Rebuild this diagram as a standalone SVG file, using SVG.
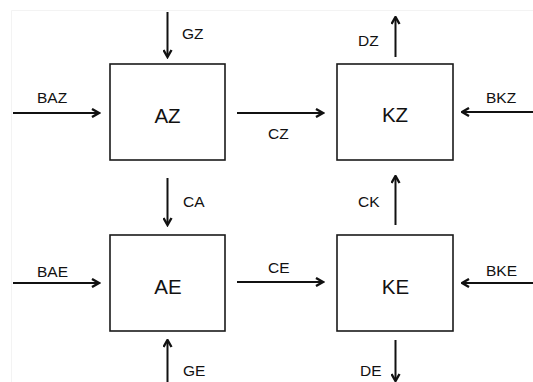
<svg xmlns="http://www.w3.org/2000/svg" width="533" height="382" viewBox="0 0 533 382">
<style>
.box{fill:#fff;stroke:#1a1a1a;stroke-width:1.6}
.big{font-family:"Liberation Sans",Arial,sans-serif;font-size:20.5px;fill:#111;text-anchor:middle}
.lbl{font-family:"Liberation Sans",Arial,sans-serif;font-size:15.5px;fill:#111}
.ar{stroke:#111;stroke-width:2;fill:none;marker-end:url(#ah)}
</style>
<defs>
<marker id="ah" viewBox="0 0 10 10" refX="8.5" refY="5" markerWidth="10" markerHeight="10" markerUnits="userSpaceOnUse" orient="auto">
<path d="M1.5,1 L8.5,5 L1.5,9" fill="none" stroke="#111" stroke-width="2.4"/>
</marker>
</defs>
<rect width="533" height="382" fill="#fff"/>
<path d="M11.5,382 V10.5 H533" fill="none" stroke="#f3f3f3" stroke-width="1"/>
<g id="AZ"><rect class="box" x="110" y="64" width="115" height="96"/><text class="big" x="167.5" y="123">AZ</text></g>
<g id="KZ"><rect class="box" x="337" y="64" width="116" height="96"/><text class="big" x="395" y="122">KZ</text></g>
<g id="AE"><rect class="box" x="110" y="235" width="115" height="96"/><text class="big" x="168" y="294">AE</text></g>
<g id="KE"><rect class="box" x="337" y="235" width="116" height="96"/><text class="big" x="395.5" y="294">KE</text></g>
<g id="connectors">
<path class="ar" d="M13,113 H99"/>
<path class="ar" d="M237,113 H323"/>
<path class="ar" d="M533,112 H462"/>
<path class="ar" d="M167.5,12 V57"/>
<path class="ar" d="M395.5,57 V17"/>
<path class="ar" d="M167.5,178 V225"/>
<path class="ar" d="M395.5,225 V176"/>
<path class="ar" d="M13,283 H99"/>
<path class="ar" d="M237,282 H323"/>
<path class="ar" d="M533,283 H462"/>
<path class="ar" d="M167.5,382 V340"/>
<path class="ar" d="M395.5,340 V381"/>
<text class="lbl" x="182" y="39">GZ</text>
<text class="lbl" x="37" y="103">BAZ</text>
<text class="lbl" x="268" y="139">CZ</text>
<text class="lbl" x="358" y="46">DZ</text>
<text class="lbl" x="486" y="103">BKZ</text>
<text class="lbl" x="183" y="207">CA</text>
<text class="lbl" x="37" y="277">BAE</text>
<text class="lbl" x="268" y="273">CE</text>
<text class="lbl" x="358" y="207">CK</text>
<text class="lbl" x="486" y="276">BKE</text>
<text class="lbl" x="183" y="376">GE</text>
<text class="lbl" x="360" y="376">DE</text>
</g>
</svg>
